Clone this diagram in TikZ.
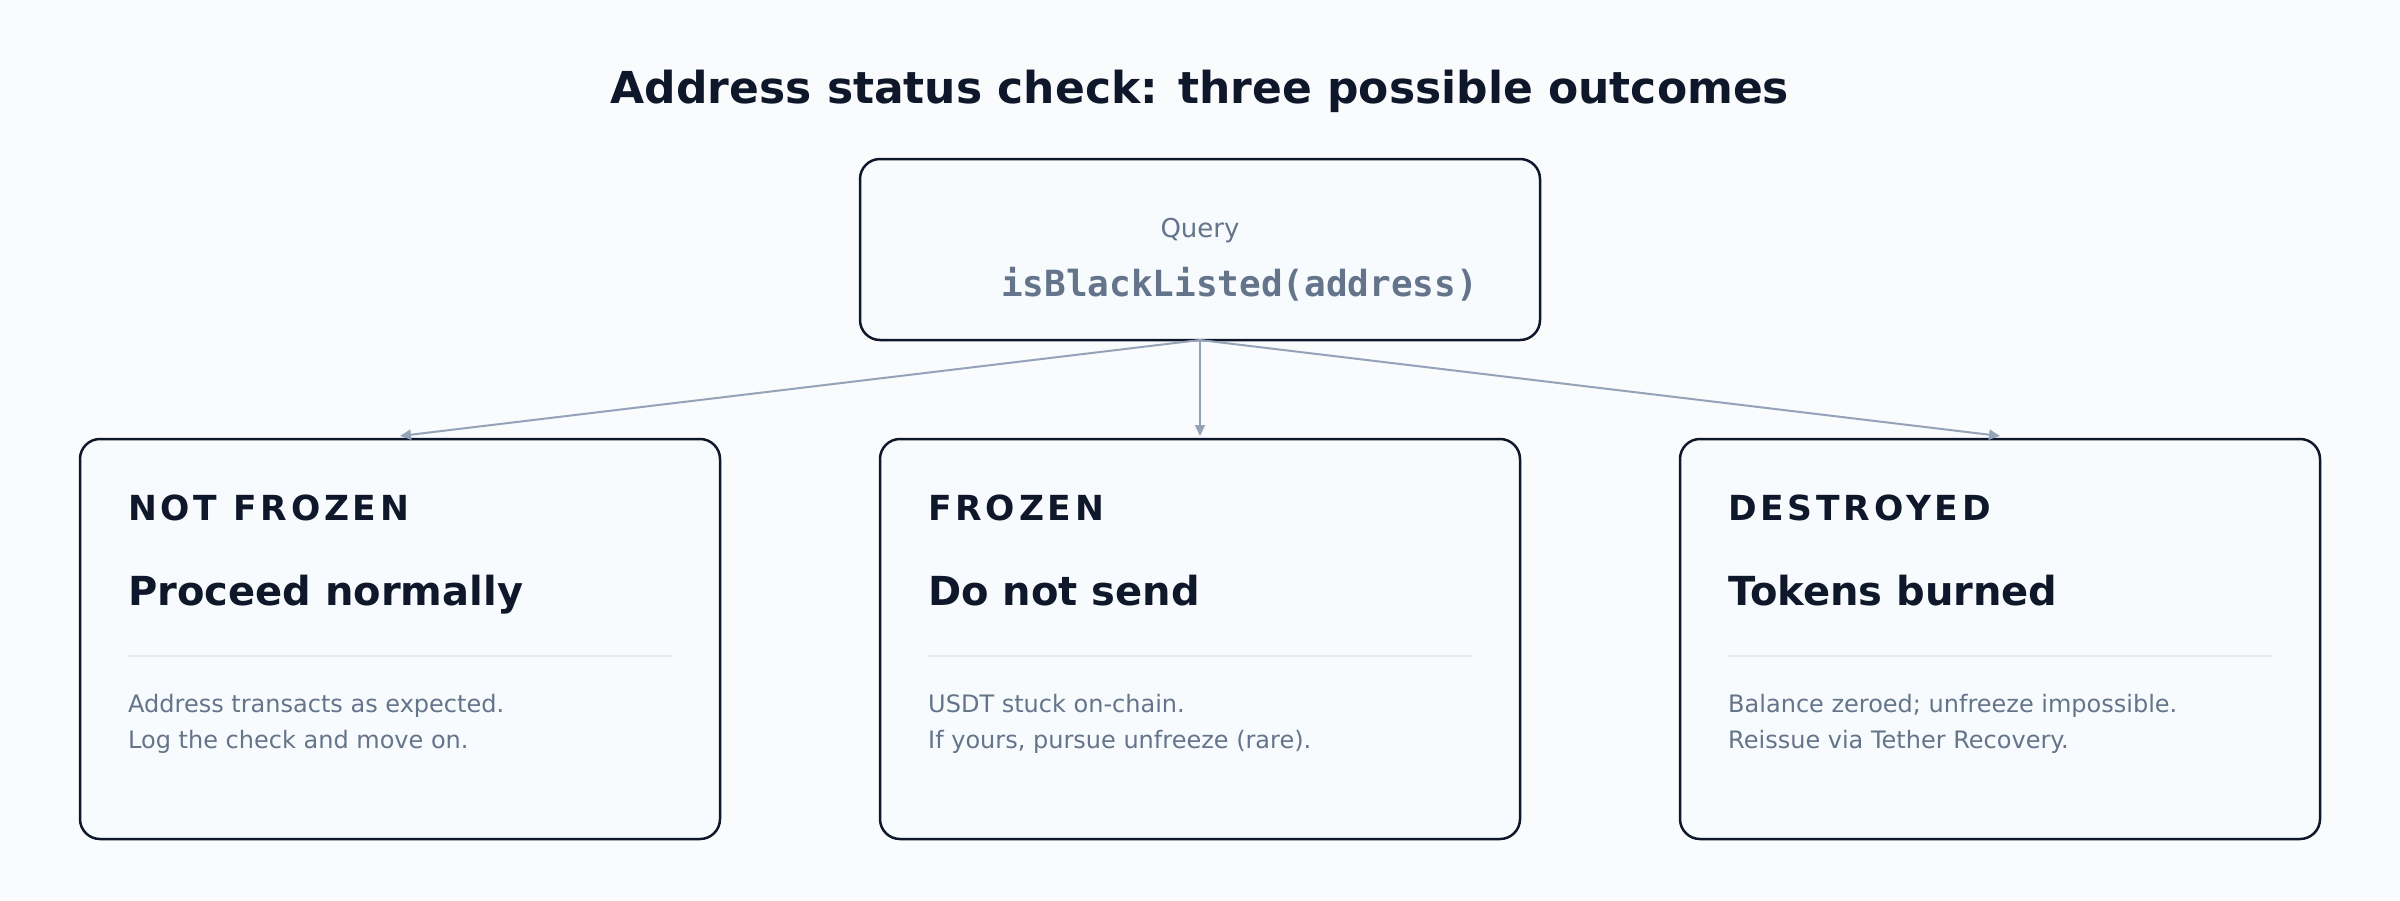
\documentclass[tikz,border=0pt]{standalone}
\usepackage{fontspec}
\setmainfont{DejaVu Sans}
\newfontfamily\monofnt{DejaVu Sans Mono}
\newfontfamily\lblfnt{DejaVu Sans}[LetterSpace=11]
\usetikzlibrary{arrows.meta}
\definecolor{ink}{HTML}{0F172A}
\definecolor{slate}{HTML}{64748B}
\definecolor{arrowc}{HTML}{94A3B8}
\definecolor{rulec}{HTML}{E2E8F0}
\definecolor{bgc}{RGB}{250,251,252}
\definecolor{cardc}{RGB}{248,251,253}
\begin{document}
\begin{tikzpicture}[x=1pt,y=-1pt,
  boxbase/.style={draw=ink, line width=2.5pt, rounded corners=20pt, fill=cardc, inner sep=0pt, outer sep=0pt},
  qbox/.style={boxbase, minimum width=680pt, minimum height=181pt},
  card/.style={boxbase, minimum width=640pt, minimum height=400pt},
  conn/.style={draw=arrowc, line width=2pt, -{Triangle[length=11pt,width=10pt]}},
  divider/.style={draw=rulec, line width=2pt},
  ttl/.style={text=ink, font=\bfseries\fontsize{44}{50}\selectfont, inner sep=0pt, anchor=base},
  lbl/.style={text=ink, font=\lblfnt\bfseries\fontsize{34.5}{40}\selectfont, inner sep=0pt, anchor=base west},
  head/.style={text=ink, font=\bfseries\fontsize{40}{46}\selectfont, inner sep=0pt, anchor=base west},
  body/.style={text=slate, font=\fontsize{24}{36}\selectfont, inner sep=0pt, anchor=base west},
  qlbl/.style={text=slate, font=\fontsize{26}{30}\selectfont, inner sep=0pt, anchor=base},
  qcode/.style={text=slate, font=\monofnt\bfseries\fontsize{36}{40}\selectfont, inner sep=0pt, anchor=base west}
]
\useasboundingbox[fill=bgc] (0,0) rectangle (2400,900);

\node[ttl] (title) at (1200,103) {Address status check: three possible outcomes};

\node[qbox] (q) at (1200,249.5) {};
\node[qlbl] (qlabel) at (1200,237) {Query};
\node[qcode] (qfun) at (1001,296) {isBlackListed(address)};

\node[card] (c1) at (400,639) {};
\node[card] (c2) at (1200,639) {};
\node[card] (c3) at (2000,639) {};

\draw[conn] (q.south) -- ([yshift=3pt]c1.north);
\draw[conn] (q.south) -- ([yshift=3pt]c2.north);
\draw[conn] (q.south) -- ([yshift=3pt]c3.north);

% card 1
\node[lbl] (l1) at (128,520) {NOT FROZEN};
\node[head] (h1) at (128,605) {Proceed normally};
\draw[divider] (128,656) -- (672,656);
\node[body] (b1a) at (128,712) {Address transacts as expected.};
\node[body] (b1b) at (128,748) {Log the check and move on.};

% card 2
\node[lbl] (l2) at (928,520) {FROZEN};
\node[head] (h2) at (928,605) {Do not send};
\draw[divider] (928,656) -- (1472,656);
\node[body] (b2a) at (928,712) {USDT stuck on-chain.};
\node[body] (b2b) at (928,748) {If yours, pursue unfreeze (rare).};

% card 3
\node[lbl] (l3) at (1728,520) {DESTROYED};
\node[head] (h3) at (1728,605) {Tokens burned};
\draw[divider] (1728,656) -- (2272,656);
\node[body] (b3a) at (1728,712) {Balance zeroed; unfreeze impossible.};
\node[body] (b3b) at (1728,748) {Reissue via Tether Recovery.};
\end{tikzpicture}
\end{document}
